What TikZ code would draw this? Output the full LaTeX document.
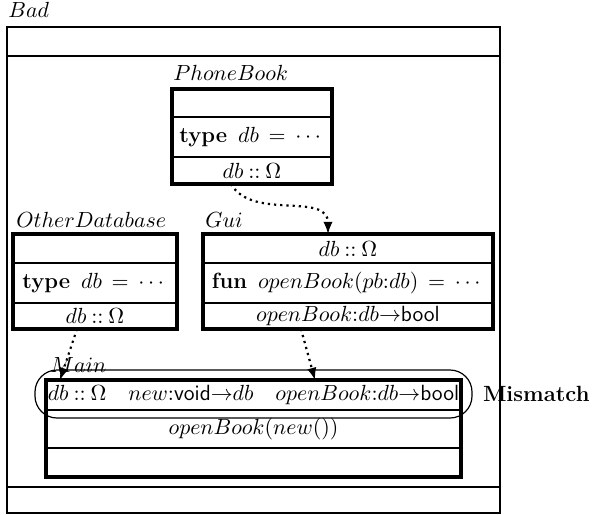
\documentclass[tikz,border=0pt]{standalone}
\usepackage{amssymb}
\usepackage{amsmath}
\usepackage{tikz}
\usetikzlibrary{arrows, positioning}

\newcommand{\oftype}{\mathbin{\mathbf{::}}}
\newcommand{\hastype}{{\mathbf{:}}}
\newcommand{\tyname}[1]{\textsf{#1}}
\newcommand{\fnto}{{\rightarrow}}
\newcommand{\defeq}{\,\mathrel{\mathbf{=}}\,}

\begin{document}
\begin{tikzpicture}[
    x=0.5pt, y=-0.5pt,
    every node/.style={font=\fontsize{11}{13}\selectfont}, % Text size
    part/.style={draw, line width=0.9pt, inner sep=0pt, outer sep=0pt}, % One section of a box
    frame/.style={line width=1.6pt}, % Thick box border
    modname/.style={anchor=base west, inner sep=0pt}, % Name above a box
    uses/.style={dotted, line width=1.1pt, -latex} % Dependency arrow
    ]
    \useasboundingbox (0,0) rectangle (593,514);

    % Bad
    \node[part, line width=0.8pt, minimum width=246.5pt, minimum height=14.5pt, anchor=north west] (badtop) at (7,27) {};
    \node[part, line width=0.8pt, minimum width=246.5pt, minimum height=215.5pt, below=0pt of badtop] (badbody) {};
    \node[part, line width=0.8pt, minimum width=246.5pt, minimum height=13pt, below=0pt of badbody] (badbot) {};
    \node[modname] (badname) at ([shift={(0.5pt,4.5pt)}]badtop.north west) {$Bad$};

    % PhoneBook
    \node[part, minimum width=80pt, minimum height=14pt, anchor=north west] (pbtop) at (172,89) {};
    \node[part, minimum width=80pt, minimum height=20pt, below=0pt of pbtop] (pbtype) {\textbf{type}\enspace$db\defeq\cdots$};
    \node[part, minimum width=80pt, minimum height=13.5pt, below=0pt of pbtype] (pbdb) {$db\oftype\Omega$};
    \draw[frame] (pbtop.north west) rectangle (pbdb.south east);
    \node[modname] (pbname) at ([shift={(0.5pt,4.5pt)}]pbtop.north west) {$PhoneBook$};

    % OtherDatabase
    \node[part, minimum width=82pt, minimum height=14.5pt, anchor=north west] (odtop) at (13,234) {};
    \node[part, minimum width=82pt, minimum height=20pt, below=0pt of odtop] (odtype) {\textbf{type}\enspace$db\defeq\cdots$};
    \node[part, minimum width=82pt, minimum height=13pt, below=0pt of odtype] (oddb) {$db\oftype\Omega$};
    \draw[frame] (odtop.north west) rectangle (oddb.south east);
    \node[modname] (odname) at ([shift={(1.5pt,3.5pt)}]odtop.north west) {$OtherDatabase$};

    % Gui
    \node[part, minimum width=145pt, minimum height=14.5pt, anchor=north west] (gdb) at (203,234) {$db\oftype\Omega$};
    \node[part, minimum width=145pt, minimum height=20pt, below=0pt of gdb] (gfun) {\textbf{fun}\enspace$openBook(pb\hastype db)\defeq\cdots$};
    \node[part, minimum width=145pt, minimum height=13pt, below=0pt of gfun] (gopen) {$openBook\hastype db\fnto\tyname{bool}$};
    \draw[frame] (gdb.north west) rectangle (gopen.south east);
    \node[modname] (gname) at ([shift={(1pt,3.5pt)}]gdb.north west) {$Gui$};

    % Main
    \node[draw, line width=0.6pt, rounded corners=11pt, minimum width=218.5pt, minimum height=24pt] (clash) at (253.5,394) {};
    \node[right=5pt of clash, inner sep=0pt] (mismatch) {\textbf{Mismatch}};
    \node[part, minimum width=207.5pt, minimum height=15pt, anchor=north west] (mimp) at (46,380)
        {$db\oftype\Omega$\quad$new\hastype\tyname{void}\fnto db$\quad$openBook\hastype db\fnto\tyname{bool}$};
    \node[part, minimum width=207.5pt, minimum height=19pt, below=0pt of mimp] (mcall) {$openBook(new())$};
    \node[part, minimum width=207.5pt, minimum height=14.5pt, below=0pt of mcall] (mlast) {};
    \draw[frame] (mimp.north west) rectangle (mlast.south east);
    \node[modname] (mainname) at ([shift={(2pt,4pt)}]mimp.north west) {$Main$};

    % imports
    \draw[uses] ([xshift=29.5pt]pbdb.south west) to[out=-60, in=90] ([xshift=62.5pt]gdb.north west);
    \draw[uses] ([xshift=32pt]oddb.south west) -- ([xshift=7pt]mimp.north west);
    \draw[uses] ([xshift=49pt]gopen.south west) -- ([xshift=134.5pt]mimp.north west);
\end{tikzpicture}
\end{document}
